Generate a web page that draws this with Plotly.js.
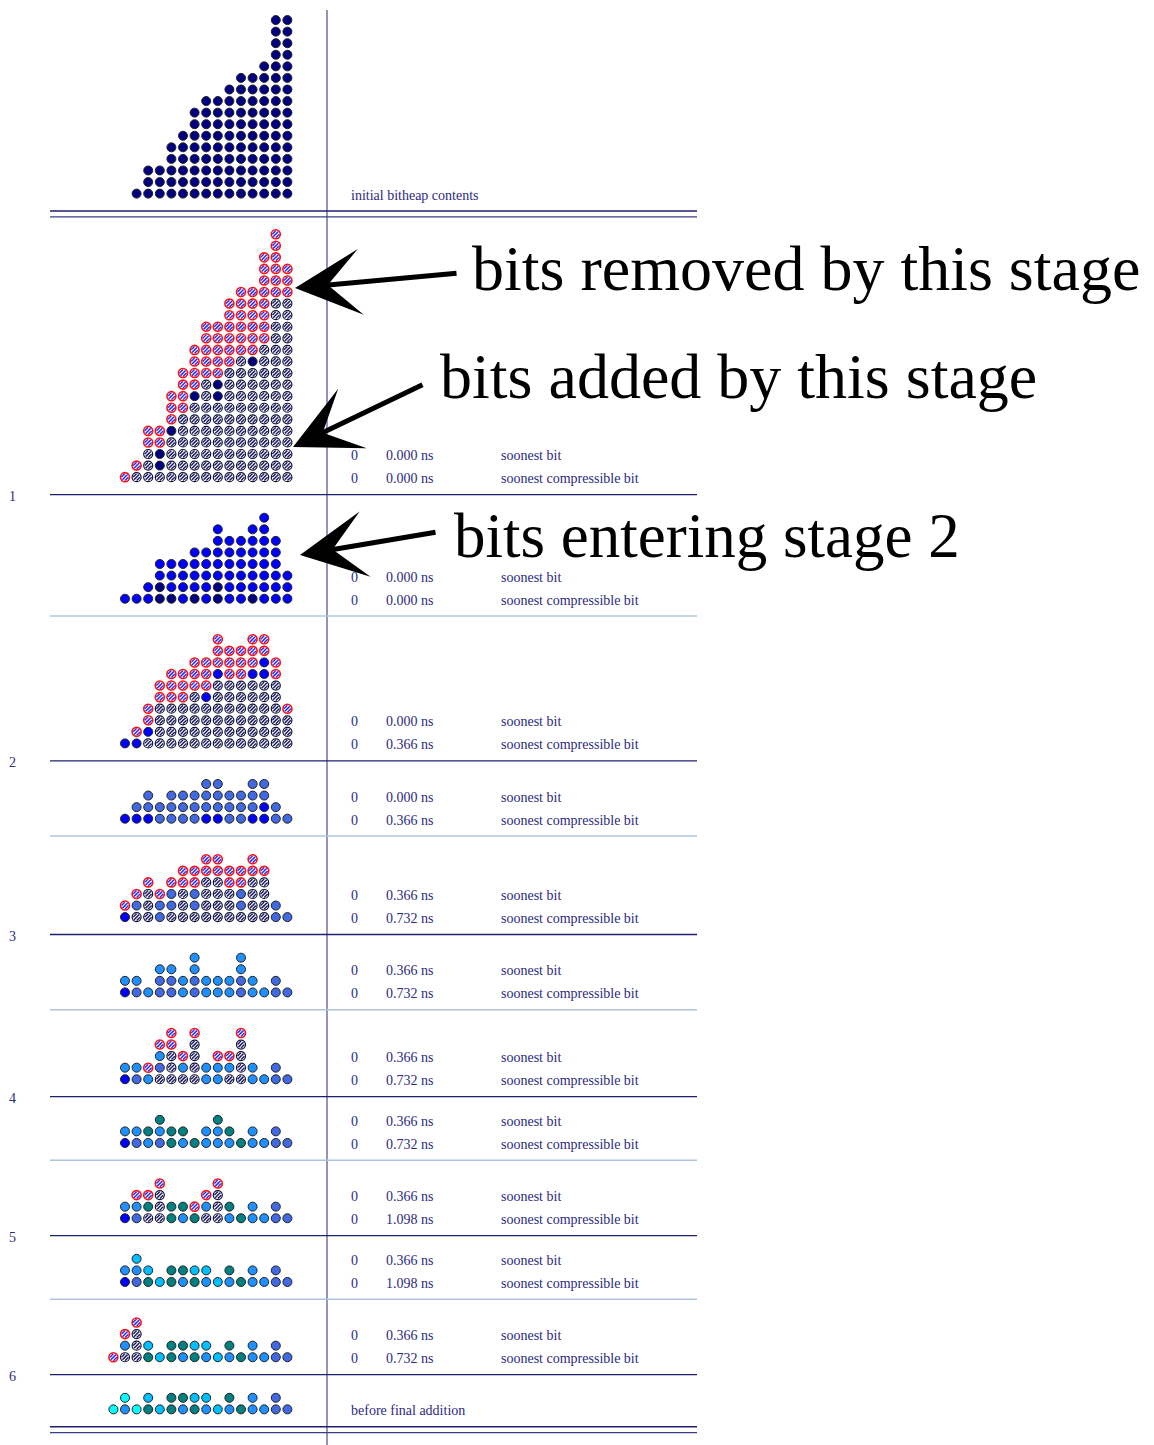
<!DOCTYPE html>
<html><head><meta charset="utf-8">
<script src="https://cdn.plot.ly/plotly-3.0.1.min.js"></script>
<style>html,body{margin:0;padding:0;background:#fff}</style>
</head><body><div id="chart" style="width:1154px;height:1445px"></div>
<script>
// Bit heap snapshots: each string is one row (top first), 16 columns (weight 15 on the left .. weight 0 on the right)
// n navy, b blue, m royal blue, d dodger blue, t teal, c deep sky blue, a cyan,
// s striped (bits consumed), r red-ringed striped (bits of this stage)
const block0 = ["..............nn","..............nn","..............nn","..............nn",".............nnn","...........nnnnn","..........nnnnnn","........nnnnnnnn",".......nnnnnnnnn",".......nnnnnnnnn","......nnnnnnnnnn",".....nnnnnnnnnnn",".....nnnnnnnnnnn","...nnnnnnnnnnnnn","...nnnnnnnnnnnnn","..nnnnnnnnnnnnnn"];
const block1 = ["..............r.","..............r.",".............rr.",".............rrr",".............rrr","...........rrrrr","..........rrrrss","..........rrrrss","........rrrrrrss","........rrrrrrss",".......rrrrrrsss",".......rrrrsnsss","......rrrrssssss","......rrsnssssss",".....rrnsnssssss",".....rrsssssssss",".....rssssssssss","...rrnssssssssss","...rrsssssssssss","...snsssssssssss","..rsnsssssssssss",".rssssssssssssss"];
const block2 = [".............b..",".........b..bb..",".........bbbbbb.",".......bbbbbbbb.","....bbbbbbbbbbb.","....bbbbbbbbbbbb","...bnbbbbnbbbbbb",".bbbnnbnbnbbnbbb"];
const block3 = [".........r..rr..",".........rrrrr..",".......rrrrrrbr.",".....rrrrbrrbbr.","....rrrrrssssss.","....rrrsbssssss.","...rsssssssssssr","...rssssssssssss","..rbssssssssssss",".bbsssssssssssss"];
const block4 = ["........mm..mm..","...m.mmmmmmmmm..","..mmmmmmmmmmmbm.",".bbbmmmmbbmmbbmm"];
const block5 = ["........rr..r...","......rrrrrrrr..","...r.rrrssrrss..","..rsrmsmsssmss..",".rmsmmsmsssmssm.",".bssmsssssssssmm"];
const block6 = [".......d...d....","....dd.d...d....",".dd.mmdmdddmd.m.",".bmdmmdmdddmddmm"];
const block7 = [".....r.r...r....","....rr.s...s....","....dsrs.rrs....",".ddrmsdsdddsd.m.",".bmdssssddssddmm"];
const block8 = ["....t....t......",".ddtdtt.ddt.d.m.",".bmdmtdtdddtddmm"];
const block9 = ["....r....r......","..rrs...rs......",".ddtsttrdst.d.m.",".bmsstdtssdtddmm"];
const block10 = ["..c.............",".ddc.ttcc.t.d.m.",".bmtctdtdcdtddmm"];
const block11 = ["..r.............",".rs.............",".dsc.ttcc.t.d.m.","rsstctdtdcdtddmm"];
const block12 = [".a.c.ttcc.t.d.m.","adatctdtdcdtddmm"];
const blocks = [block0,block1,block2,block3,block4,block5,block6,block7,block8,block9,block10,block11,block12];

// separator drawn below each block
const sepKinds = ["double","dark","light","dark","light","dark","light","dark","light","dark","light","dark","double"];
const stageLabels = ["1","2","3","4","5","6"];
// timing texts per block
const cycleBit  = ["", "0","0","0","0","0","0","0","0","0","0","0",""];
const delayBit  = ["", "0.000 ns","0.000 ns","0.000 ns","0.000 ns","0.366 ns","0.366 ns","0.366 ns","0.366 ns","0.366 ns","0.366 ns","0.366 ns",""];
const cycleComp = ["", "0","0","0","0","0","0","0","0","0","0","0",""];
const delayComp = ["", "0.000 ns","0.000 ns","0.366 ns","0.366 ns","0.732 ns","0.732 ns","0.732 ns","0.732 ns","1.098 ns","1.098 ns","0.732 ns",""];
const notes = {0:"initial bitheap contents", 12:"before final addition"};
const bigLabels = ["bits removed by this stage","bits added by this stage","bits entering stage 2"];

const solidColors = {n:"#000080", b:"#0000ff", m:"#4169e1", d:"#1e90ff", t:"#008080", c:"#00bfff", a:"#00ffff"};

// ---------- geometry ----------
const ROW = 11.57, COL = 11.6, X0 = 287.4;
const LX0 = 50, LX1 = 697, VX = 327;
let prev = -3.1;
const bottoms = [], seps = [];
blocks.forEach(rows => {
  const b = prev + rows.length * ROW + 11.6;
  bottoms.push(b);
  const s = b + 17.4;
  seps.push(s);
  prev = s;
});

const pts = {};
blocks.forEach((rows, bi) => {
  rows.forEach((row, ri) => {
    const k = rows.length - 1 - ri;
    const y = bottoms[bi] - k * ROW;
    for (let j = 0; j < row.length; j++) {
      const ch = row[j];
      if (ch === ".") continue;
      const x = X0 - (15 - j) * COL;
      (pts[ch] = pts[ch] || {x: [], y: []});
      pts[ch].x.push(x); pts[ch].y.push(y);
    }
  });
});

const traces = [];
Object.keys(solidColors).forEach(k => {
  if (!pts[k]) return;
  traces.push({type: "scatter", mode: "markers", x: pts[k].x, y: pts[k].y, hoverinfo: "skip",
    marker: {symbol: "circle", size: 9, color: solidColors[k], line: {color: "#222222", width: 1}}});
});
function striped(k, ring, ringW, stripe) {
  if (!pts[k]) return;
  traces.push({type: "scatter", mode: "markers", x: pts[k].x, y: pts[k].y, hoverinfo: "skip",
    marker: {symbol: "circle", size: 9, color: "#ffffff", line: {color: ring, width: ringW}}});
  traces.push({type: "scatter", mode: "markers", x: pts[k].x, y: pts[k].y, hoverinfo: "skip",
    marker: {symbol: "line-ne", size: 5.2, color: stripe, line: {color: stripe, width: 1.5}}});
  [-1, 1].forEach(sg => {
    traces.push({type: "scatter", mode: "markers",
      x: pts[k].x.map(v => v + sg * 1.75), y: pts[k].y.map(v => v + sg * 1.75), hoverinfo: "skip",
      marker: {symbol: "line-ne", size: 3.4, color: stripe, line: {color: stripe, width: 1.4}}});
  });
}
striped("s", "#111133", 1.2, "#1a1a66");
striped("r", "#ff1010", 1.6, "#2a2aff");

// ---------- lines ----------
const shapes = [{type: "line", xref: "x", yref: "y", x0: VX, x1: VX, y0: 10, y1: 1445, line: {color: "#4b4b95", width: 1.2}}];
seps.forEach((s, i) => {
  const kind = sepKinds[i];
  if (kind === "double") {
    shapes.push({type: "line", xref: "x", yref: "y", x0: LX0, x1: LX1, y0: s, y1: s, line: {color: "#1f1f6e", width: 1.3}});
    shapes.push({type: "line", xref: "x", yref: "y", x0: LX0, x1: LX1, y0: s + 5.8, y1: s + 5.8, line: {color: "#3c3c88", width: 1.3}});
  } else {
    shapes.push({type: "line", xref: "x", yref: "y", x0: LX0, x1: LX1, y0: s, y1: s,
      line: {color: kind === "dark" ? "#1f1f6e" : "#b0c4de", width: kind === "dark" ? 1.3 : 1.5}});
  }
});

// ---------- texts ----------
const tf = {family: "Liberation Serif, Times New Roman, serif", size: 14, color: "#2b2b80"};
const ann = [];
function txt(x, y, t, anchor) {
  ann.push({x: x, y: y, xref: "x", yref: "y", text: t, showarrow: false, xanchor: anchor || "left", yanchor: "middle", font: tf});
}
let st = 0;
seps.forEach((s, i) => {
  if (sepKinds[i] === "dark") { txt(7, s + 1.5, stageLabels[st++]); }
});
blocks.forEach((rows, i) => {
  const b = bottoms[i];
  if (notes[i] !== undefined) { txt(349, b + 1.5, notes[i]); return; }
  txt(349, b - 21.5, cycleBit[i]); txt(384, b - 21.5, delayBit[i]); txt(499, b - 21.5, "soonest bit");
  txt(349, b + 1.5, cycleComp[i]); txt(384, b + 1.5, delayComp[i]); txt(499, b + 1.5, "soonest compressible bit");
});

const bf = {family: "Liberation Serif, Times New Roman, serif", size: 64, color: "#000000"};
const bf3 = {family: "Liberation Serif, Times New Roman, serif", size: 63, color: "#000000"};
ann.push({x: 470, y: 268, xref: "x", yref: "y", text: bigLabels[0], showarrow: false, xanchor: "left", yanchor: "middle", font: bf});
ann.push({x: 438, y: 376, xref: "x", yref: "y", text: bigLabels[1], showarrow: false, xanchor: "left", yanchor: "middle", font: bf});
ann.push({x: 452, y: 536, xref: "x", yref: "y", text: bigLabels[2], showarrow: false, xanchor: "left", yanchor: "middle", font: bf3});

function arrow(tipX, tipY, tailX, tailY) {
  ann.push({x: tipX, y: tipY, ax: tailX, ay: tailY, xref: "x", yref: "y", axref: "x", ayref: "y",
    text: "", showarrow: true, arrowhead: 3, arrowsize: 2.2, arrowwidth: 5, arrowcolor: "#000000", standoff: 0, startstandoff: 0});
}
arrow(295, 288, 458, 273);
arrow(293, 447, 424, 384);
arrow(300, 555, 437, 532);

const layout = {
  width: 1154, height: 1445, margin: {l: 0, r: 0, t: 0, b: 0, pad: 0},
  paper_bgcolor: "#ffffff", plot_bgcolor: "#ffffff", showlegend: false, hovermode: false,
  xaxis: {range: [0, 1154], visible: false, showgrid: false, zeroline: false, fixedrange: true},
  yaxis: {range: [1445, 0], visible: false, showgrid: false, zeroline: false, fixedrange: true},
  shapes: shapes, annotations: ann
};
Plotly.newPlot("chart", traces, layout, {staticPlot: true, displayModeBar: false});
</script>
</body></html>
